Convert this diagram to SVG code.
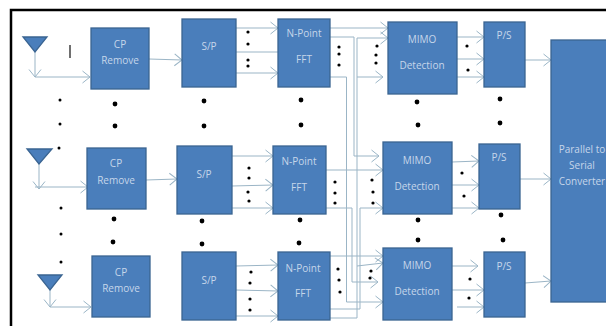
<svg xmlns="http://www.w3.org/2000/svg" width="606" height="326" viewBox="0 0 606 326">
<style>
.b{fill:#4a7ebb;stroke:#3a6491;stroke-width:1.3}
.t{fill:#c6d6ea;font-family:"Open Sans","Liberation Sans",sans-serif;font-size:10px;text-anchor:middle}
.c{fill:none;stroke:#9bb5c6;stroke-width:1}
.a{marker-end:url(#ah)}
.d circle{fill:#000}
</style>
<defs>
<marker id="ah" markerUnits="userSpaceOnUse" markerWidth="10" markerHeight="14" refX="8" refY="7" orient="auto">
<path d="M0.5,1 L8,7 L0.5,13" fill="none" stroke="#9bb5c6" stroke-width="1"/>
</marker>
</defs>
<rect width="606" height="326" fill="#fff"/>
<path d="M11,326 V10 H606" fill="none" stroke="#000" stroke-width="2.5"/>

<g id="connectors">
<path class="c a" d="M35,52 V77"/>
<path class="c a" d="M35,77 H90"/>
<path class="c a" d="M149,59 L182,60"/>
<path class="c a" d="M236,28 H278"/>
<path class="c" d="M236,52 H278"/>
<path class="c a" d="M236,73 H278"/>
<path class="c a" d="M330,28 H388"/>
<path class="c a" d="M330,37 H354 V156 H379"/>
<path class="c a" d="M330,77 H346.500 V302 H383"/>
<path class="c a" d="M330,318 H357 V38 H388"/>
<path class="c a" d="M357,77 H383"/>
<path class="c a" d="M457,37 H484"/>
<path class="c a" d="M457,59 H484"/>
<path class="c a" d="M457,77 H484"/>
<path class="c a" d="M525,60 H551"/>

<path class="c a" d="M39,164 V189"/>
<path class="c a" d="M35,187 H88"/>
<path class="c a" d="M146,180 L177,179"/>
<path class="c a" d="M232,156 H273"/>
<path class="c a" d="M232,186 L273,185"/>
<path class="c a" d="M232,208 H273"/>
<path class="c a" d="M326,170 H383"/>
<path class="c a" d="M326,208 H352 V282 H378"/>
<path class="c a" d="M326,309 H360 V208 H383"/>
<path class="c a" d="M452,162 L479,161"/>
<path class="c a" d="M452,185 H479"/>
<path class="c a" d="M452,208 H479"/>
<path class="c a" d="M520,179 H551"/>

<path class="c a" d="M50,290 V307"/>
<path class="c a" d="M50,307 H91"/>
<path class="c a" d="M236,266 L278,265"/>
<path class="c a" d="M236,290 L278,291"/>
<path class="c a" d="M236,316 H278"/>
<path class="c a" d="M330,256 H383"/>
<path class="c a" d="M357,266 L383,263"/>
<path class="c a" d="M452,266 H478"/>
<path class="c a" d="M452,290 H484"/>
<path class="c a" d="M457,307 H484"/>
<path class="c a" d="M525,283 L551,281"/>
</g>

<g id="ant1"><path class="b" d="M23,37 H47 L35,52 Z"/></g>
<g id="ant2"><path class="b" d="M27,149 H52 L39,164 Z"/></g>
<g id="ant3"><path class="b" d="M38,275 H62 L50,290 Z"/></g>
<path d="M70,45 V58" stroke="#222" stroke-width="1.3"/>

<g id="cp1"><rect class="b" x="91" y="28" width="58" height="61"/><text class="t" x="120" y="48">CP</text><text class="t" x="120" y="64">Remove</text></g>
<g id="sp1"><rect class="b" x="182" y="19" width="54" height="68"/><text class="t" x="209" y="50">S/P</text></g>
<g id="fft1"><rect class="b" x="278" y="19" width="52" height="68"/><text class="t" x="304" y="37">N-Point</text><text class="t" x="304" y="63">FFT</text></g>
<g id="mimo1"><rect class="b" x="388" y="22" width="69" height="72"/><text class="t" x="422" y="43">MIMO</text><text class="t" x="422" y="69">Detection</text></g>
<g id="ps1"><rect class="b" x="484" y="22" width="41" height="65"/><text class="t" x="504" y="39">P/S</text></g>

<g id="cp2"><rect class="b" x="87" y="148" width="59" height="61"/><text class="t" x="116" y="167">CP</text><text class="t" x="116" y="184">Remove</text></g>
<g id="sp2"><rect class="b" x="177" y="146" width="55" height="68"/><text class="t" x="204" y="178">S/P</text></g>
<g id="fft2"><rect class="b" x="273" y="146" width="53" height="68"/><text class="t" x="299" y="165">N-Point</text><text class="t" x="299" y="191">FFT</text></g>
<g id="mimo2"><rect class="b" x="383" y="142" width="69" height="72"/><text class="t" x="417" y="164">MIMO</text><text class="t" x="417" y="190">Detection</text></g>
<g id="ps2"><rect class="b" x="479" y="144" width="41" height="65"/><text class="t" x="499" y="161">P/S</text></g>

<g id="cp3"><rect class="b" x="92" y="256" width="58" height="61"/><text class="t" x="121" y="276">CP</text><text class="t" x="121" y="292">Remove</text></g>
<g id="sp3"><rect class="b" x="182" y="252" width="54" height="68"/><text class="t" x="209" y="284">S/P</text></g>
<g id="fft3"><rect class="b" x="278" y="252" width="52" height="68"/><text class="t" x="303" y="272">N-Point</text><text class="t" x="303" y="297">FFT</text></g>
<g id="mimo3"><rect class="b" x="383" y="248" width="69" height="72"/><text class="t" x="417" y="269">MIMO</text><text class="t" x="417" y="295">Detection</text></g>
<g id="ps3"><rect class="b" x="484" y="252" width="41" height="65"/><text class="t" x="504" y="270">P/S</text></g>

<g id="converter"><rect class="b" x="551" y="40" width="60" height="262"/><text class="t" x="582" y="153">Parallel to</text><text class="t" x="582" y="169">Serial</text><text class="t" x="582" y="185">Converter</text></g>

<g class="d" id="dots-small">
<circle cx="60" cy="100" r="1.5"/><circle cx="60" cy="124" r="1.5"/><circle cx="59" cy="148" r="1.5"/>
<circle cx="61" cy="208" r="1.5"/><circle cx="61" cy="234" r="1.5"/><circle cx="61" cy="262" r="1.5"/>
<circle cx="248" cy="32" r="1.6"/><circle cx="248" cy="44" r="1.6"/><circle cx="248" cy="60" r="1.6"/><circle cx="248" cy="66" r="1.6"/>
<circle cx="339" cy="47" r="1.6"/><circle cx="339" cy="54" r="1.6"/><circle cx="339" cy="65" r="1.6"/>
<circle cx="377" cy="46" r="1.6"/><circle cx="376" cy="55" r="1.6"/><circle cx="376" cy="63" r="1.6"/>
<circle cx="467" cy="46" r="1.6"/><circle cx="468" cy="70" r="1.6"/>
<circle cx="249" cy="168" r="1.6"/><circle cx="249" cy="178" r="1.6"/><circle cx="248" cy="192" r="1.6"/><circle cx="249" cy="201" r="1.6"/>
<circle cx="335" cy="182" r="1.6"/><circle cx="335" cy="193" r="1.6"/><circle cx="335" cy="203" r="1.6"/>
<circle cx="372" cy="180" r="1.6"/><circle cx="373" cy="192" r="1.6"/><circle cx="373" cy="203" r="1.6"/>
<circle cx="462" cy="173" r="1.6"/><circle cx="464" cy="196" r="1.6"/>
<circle cx="251" cy="272" r="1.6"/><circle cx="250" cy="283" r="1.6"/><circle cx="250" cy="299" r="1.6"/><circle cx="250" cy="310" r="1.6"/>
<circle cx="338" cy="269" r="1.6"/><circle cx="339" cy="280" r="1.6"/><circle cx="340" cy="292" r="1.6"/>
<circle cx="371" cy="271" r="1.6"/><circle cx="370" cy="278" r="1.6"/>
<circle cx="470" cy="279" r="1.6"/><circle cx="469" cy="298" r="1.6"/>
</g>
<g class="d" id="dots-large">
<circle cx="115" cy="104" r="2.4"/><circle cx="115" cy="126" r="2.4"/>
<circle cx="204" cy="101" r="2.4"/><circle cx="204" cy="126" r="2.4"/>
<circle cx="301" cy="100" r="2.4"/><circle cx="301" cy="125" r="2.4"/>
<circle cx="417" cy="102" r="2.4"/><circle cx="418" cy="125" r="2.4"/>
<circle cx="500" cy="99" r="2.4"/><circle cx="500" cy="123" r="2.4"/>
<circle cx="114" cy="219" r="2.4"/><circle cx="113" cy="242" r="2.4"/>
<circle cx="202" cy="221" r="2.4"/><circle cx="202" cy="244" r="2.4"/>
<circle cx="300" cy="220" r="2.4"/><circle cx="299" cy="243" r="2.4"/>
<circle cx="418" cy="220" r="2.4"/><circle cx="418" cy="240" r="2.4"/>
<circle cx="501" cy="215" r="2.4"/><circle cx="503" cy="240" r="2.4"/>
</g>
</svg>
